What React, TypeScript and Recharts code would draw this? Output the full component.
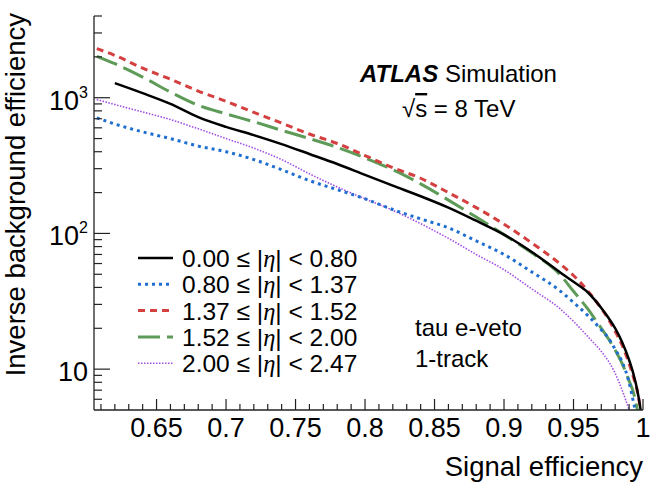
import { LineChart, Line, XAxis, YAxis } from 'recharts'

// signal efficiency grid shared by all curves
const signalEff = [
  0.607, 0.62, 0.64, 0.66, 0.68, 0.7, 0.72, 0.74, 0.76, 0.78, 0.8, 0.82, 0.84,
  0.86, 0.88, 0.9, 0.92, 0.94, 0.95, 0.96, 0.97, 0.975, 0.98, 0.985, 0.99,
  0.993, 0.996, 0.998, 0.9995,
]

// inverse background efficiency per |eta| bin
const rejEta000 = [
  null, 1280, 1080, 900, 720, 610, 530, 455, 385, 325, 270, 225, 188, 155, 124,
  98, 73, 52, 44, 37, 28.2, 24, 20, 15.8, 11.7, 9.3, 6.9, 5.25, 4,
]
const rejEta080 = [
  710, 640, 560, 500, 440, 400, 350, 295, 245, 210, 180, 150, 128, 110, 88, 70,
  52, 38, 31, 25, 19.5, 17, 14, 11.3, 8, 5.8, 4.2, 3.5, 3,
]
const rejEta137 = [
  2300, 2050, 1650, 1370, 1120, 940, 780, 650, 540, 460, 375, 305, 255, 200,
  155, 117, 85, 60, 49, 38, 28, 23.5, 19, 15, 11, 8.8, 6.8, 5.2, 4,
]
const rejEta152 = [
  2020, 1780, 1420, 1100, 880, 760, 665, 575, 500, 430, 360, 295, 232, 176,
  132, 98, 72, 50, 37.5, 28, 20, 16.8, 13.8, 11, 8.2, 6.8, 5, 3.9, 3,
]
const rejEta200 = [
  970, 890, 785, 690, 590, 500, 425, 350, 275, 220, 180, 148, 118, 92, 70, 54,
  39, 28, 22.5, 17.5, 13.5, 11.5, 9.3, 7, 5, 4, 3.2, 3, 3,
]

const etaLow = ['0.00', '0.80', '1.37', '1.52', '2.00']
const etaHigh = ['0.80', '1.37', '1.52', '2.00', '2.47']

const xMajor = [0.65, 0.7, 0.75, 0.8, 0.85, 0.9, 0.95, 1]
const xTickLabels = ['0.65', '0.7', '0.75', '0.8', '0.85', '0.9', '0.95', '1']
const xTicks = Array.from({ length: 40 }, (_, i) => Math.round(61 + i) / 100)

const yMajor = [10, 100, 1000]
const yTickExp = ['', '2', '3']
const yTicks = [
  6, 7, 8, 9, 10, 20, 30, 40, 50, 60, 70, 80, 90, 100, 200, 300, 400, 500, 600,
  700, 800, 900, 1000, 2000, 3000, 4000,
]

const series = [
  { key: 'eta000', color: '#000000', width: 2.5, dash: undefined },
  { key: 'eta080', color: '#1f6fd0', width: 3, dash: '3 4' },
  { key: 'eta137', color: '#d43f3f', width: 3, dash: '7 5' },
  { key: 'eta152', color: '#5e9b58', width: 3, dash: '22 7' },
  { key: 'eta200', color: '#a34fe6', width: 1.6, dash: '1.5 1.5' },
]

const data = signalEff.map((eff, i) => ({
  eff,
  eta000: rejEta000[i],
  eta080: rejEta080[i],
  eta137: rejEta137[i],
  eta152: rejEta152[i],
  eta200: rejEta200[i],
}))

const FONT = "'Liberation Sans', Arial, Helvetica, sans-serif"

const isMajorX = (v: number) => xMajor.findIndex((m) => Math.abs(m - v) < 1e-6)
const isMajorY = (v: number) => yMajor.findIndex((m) => Math.abs(m - v) < 1e-6)

const XTick = ({ x, y, payload, top }: any) => {
  const idx = isMajorX(payload.value)
  const len = idx >= 0 ? 11 : 6
  const dir = top ? 1 : -1
  return (
    <g>
      <line x1={x} x2={x} y1={y} y2={y + dir * len} stroke="#222" strokeWidth={1.2} />
      {!top && idx >= 0 && (
        <text x={x} y={y + 27} textAnchor="middle" fontSize={27} fill="#000" fontFamily={FONT}>
          {xTickLabels[idx]}
        </text>
      )}
    </g>
  )
}

const YTick = ({ x, y, payload, right }: any) => {
  const idx = isMajorY(payload.value)
  const len = idx >= 0 ? 16 : 8
  const dir = right ? -1 : 1
  return (
    <g>
      <line x1={x} x2={x + dir * len} y1={y} y2={y} stroke="#222" strokeWidth={1.2} />
      {!right && idx >= 0 && (
        <text x={x - 6} y={y + 12} textAnchor="end" fontSize={27} fill="#000" fontFamily={FONT}>
          10
          {yTickExp[idx] && (
            <tspan dy={-12} fontSize={16}>
              {yTickExp[idx]}
            </tspan>
          )}
        </text>
      )}
    </g>
  )
}

const frame = { stroke: '#222', strokeWidth: 1.3 }

export default function App() {
  return (
    <div style={{ position: 'absolute', left: 0, top: 0, width: 652, height: 489, background: '#fff', fontFamily: FONT }}>
      <LineChart width={652} height={489} data={data} margin={{ top: 16, right: 9, bottom: 0, left: 0 }}>
        <XAxis
          xAxisId="b"
          dataKey="eff"
          type="number"
          domain={[0.605, 1]}
          allowDataOverflow
          ticks={xTicks}
          interval={0}
          height={79}
          tickSize={0}
          tickMargin={0}
          tickLine={false}
          axisLine={frame}
          tick={<XTick />}
        />
        <XAxis
          xAxisId="t"
          orientation="top"
          dataKey="eff"
          type="number"
          domain={[0.605, 1]}
          allowDataOverflow
          ticks={xTicks}
          interval={0}
          height={0}
          tickSize={0}
          tickMargin={0}
          tickLine={false}
          axisLine={frame}
          tick={<XTick top />}
        />
        <YAxis
          yAxisId="l"
          type="number"
          scale="log"
          domain={[5, 4000]}
          allowDataOverflow
          ticks={yTicks}
          interval={0}
          width={94}
          tickSize={0}
          tickMargin={0}
          tickLine={false}
          axisLine={frame}
          tick={<YTick />}
        />
        <YAxis
          yAxisId="r"
          orientation="right"
          type="number"
          scale="log"
          domain={[5, 4000]}
          allowDataOverflow
          ticks={yTicks}
          interval={0}
          width={0}
          tickSize={0}
          tickMargin={0}
          tickLine={false}
          axisLine={frame}
          tick={<YTick right />}
        />
        {[...series].reverse().map((s) => (
          <Line
            key={s.key}
            xAxisId="b"
            yAxisId="l"
            type="monotone"
            dataKey={s.key}
            stroke={s.color}
            strokeWidth={s.width}
            strokeDasharray={s.dash}
            dot={false}
            activeDot={false}
            connectNulls
            isAnimationActive={false}
          />
        ))}
      </LineChart>

      {/* annotations, legend and axis titles */}
      <svg width={652} height={489} style={{ position: 'absolute', left: 0, top: 0, pointerEvents: 'none' }}>
        <text x={643} y={476} textAnchor="end" fontSize={27.5} fontFamily={FONT}>
          Signal efficiency
        </text>
        <text transform="translate(25,13) rotate(-90)" textAnchor="end" fontSize={27.5} fontFamily={FONT}>
          Inverse background efficiency
        </text>

        <text x={360} y={82} fontSize={24} fontFamily={FONT}>
          <tspan fontWeight="bold" fontStyle="italic">ATLAS</tspan> Simulation
        </text>
        <text x={402} y={117} fontSize={24} fontFamily={FONT}>
          √<tspan textDecoration="overline">s</tspan> = 8 TeV
        </text>
        <text x={415} y={336} fontSize={24} fontFamily={FONT}>
          tau e-veto
        </text>
        <text x={415} y={367} fontSize={24} fontFamily={FONT}>
          1-track
        </text>

        {series.map((s, i) => {
          const cy = 258 + i * 26.3
          return (
            <g key={s.key}>
              <line x1={138} x2={173} y1={cy} y2={cy} stroke={s.color} strokeWidth={s.width} strokeDasharray={s.dash} />
              <text x={182} y={cy + 9} fontSize={24.5} fontFamily={FONT}>
                {etaLow[i]} ≤ |<tspan fontFamily="'Liberation Serif', serif" fontStyle="italic">η</tspan>| &lt; {etaHigh[i]}
              </text>
            </g>
          )
        })}
      </svg>
    </div>
  )
}
